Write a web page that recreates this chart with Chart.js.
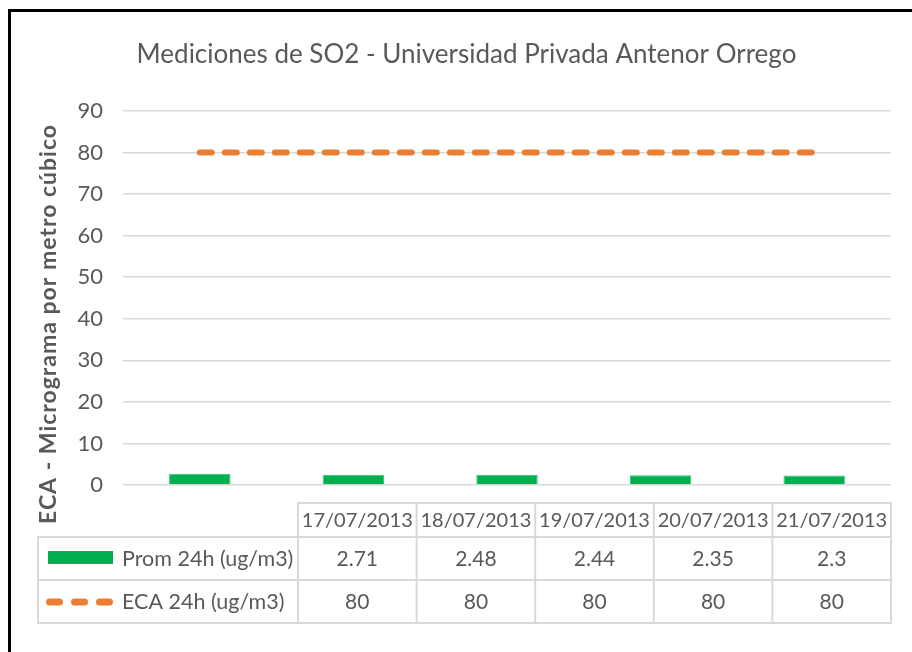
<!DOCTYPE html>
<html>
<head>
<meta charset="utf-8">
<script src="https://cdn.jsdelivr.net/npm/chart.js@4"></script>
<style>
  html, body { margin: 0; padding: 0; background: #fff; }
  #marco {
    position: absolute; left: 8px; top: 9px; width: 940px; height: 680px;
    border-left: 3px solid #000; border-top: 3px solid #000;
  }
  #grafico { position: absolute; left: 0; top: 0; }
</style>
</head>
<body>
<div id="marco"></div>
<canvas id="grafico" width="912" height="652"></canvas>
<script>
// ---------------- Datos ----------------
const fechas = ["17/07/2013", "18/07/2013", "19/07/2013", "20/07/2013", "21/07/2013"];
const prom24h = [2.71, 2.48, 2.44, 2.35, 2.3];
const eca24h = [80, 80, 80, 80, 80];
const nombresSeries = ["Prom 24h (ug/m3)", "ECA 24h (ug/m3)"];

const FUENTE = "Lato";
const GRIS = "#595959";
const VERDE = "#00B050";
const NARANJA = "#ED7D31";

// ---------------- Tabla de datos bajo el grafico ----------------
const tablaDatos = {
  id: "tablaDatos",
  afterDraw(chart) {
    const ctx = chart.ctx;
    const right = chart.chartArea.right;
    const izq = 38, colIni = 298;
    const filas = [503, 537, 580, 623];
    const anchoCol = (right - colIni) / fechas.length;

    ctx.save();
    ctx.strokeStyle = "#d9d9d9";
    ctx.lineWidth = 2;
    ctx.strokeRect(colIni, filas[0], right - colIni, filas[1] - filas[0]);
    ctx.strokeRect(izq, filas[1], right - izq, filas[3] - filas[1]);
    ctx.beginPath();
    ctx.moveTo(izq, filas[2]);
    ctx.lineTo(right, filas[2]);
    ctx.moveTo(colIni, filas[1]);
    ctx.lineTo(colIni, filas[3]);
    for (let i = 1; i < fechas.length; i++) {
      ctx.moveTo(colIni + i * anchoCol, filas[0]);
      ctx.lineTo(colIni + i * anchoCol, filas[3]);
    }
    ctx.stroke();

    ctx.fillStyle = GRIS;
    ctx.textAlign = "center";
    ctx.textBaseline = "middle";
    const series = [prom24h, eca24h];
    fechas.forEach((f, i) => {
      const cx = colIni + (i + 0.5) * anchoCol;
      ctx.font = "20px " + FUENTE;
      ctx.fillText(f, cx, (filas[0] + filas[1]) / 2 + 1);
      ctx.font = "21px " + FUENTE;
      series.forEach((s, j) => {
        ctx.fillText(String(s[i]), cx, (filas[j + 1] + filas[j + 2]) / 2 + 1);
      });
    });

    // leyenda dentro de la tabla
    ctx.textAlign = "left";
    ctx.font = "21.5px " + FUENTE;
    ctx.fillText(nombresSeries[0], 122, (filas[1] + filas[2]) / 2 + 1);
    ctx.fillText(nombresSeries[1], 122, (filas[2] + filas[3]) / 2 + 1);

    ctx.fillStyle = VERDE;
    ctx.fillRect(48, 551, 65, 13);

    ctx.strokeStyle = NARANJA;
    ctx.lineWidth = 7;
    ctx.lineCap = "round";
    ctx.setLineDash([10, 15]);
    ctx.beginPath();
    ctx.moveTo(49.5, 602);
    ctx.lineTo(109.5, 602);
    ctx.stroke();

    // titulo del eje Y
    ctx.setLineDash([]);
    ctx.translate(49, 324);
    ctx.rotate(-Math.PI / 2);
    ctx.fillStyle = GRIS;
    ctx.font = "bold 23px " + FUENTE;
    ctx.letterSpacing = "1px";
    ctx.textAlign = "center";
    ctx.fillText("ECA - Micrograma por metro cúbico", 0, 0);
    ctx.restore();
  }
};

// ---------------- Grafico ----------------
const ctx = document.getElementById("grafico").getContext("2d");
const chart = new Chart(ctx, {
  data: {
    labels: fechas,
    datasets: [
      {
        type: "line",
        label: nombresSeries[1],
        data: eca24h,
        borderColor: NARANJA,
        borderWidth: 6,
        borderDash: [12, 13],
        borderCapStyle: "round",
        pointRadius: 0,
        fill: false,
        order: 0
      },
      {
        type: "bar",
        label: nombresSeries[0],
        data: prom24h,
        backgroundColor: VERDE,
        borderColor: "#2ec46f",
        borderWidth: 1,
        barPercentage: 0.4,
        categoryPercentage: 1,
        order: 1
      }
    ]
  },
  options: {
    responsive: false,
    animation: false,
    layout: { padding: { left: 42, right: 21, top: 0, bottom: 167 } },
    scales: {
      x: { display: false },
      y: {
        min: 0,
        max: 90,
        afterFit: (s) => { s.width = 81; },
        ticks: {
          stepSize: 10,
          padding: 20,
          color: GRIS,
          font: { family: FUENTE, size: 22 }
        },
        grid: { color: "#d9d9d9", lineWidth: 1.5, drawTicks: false },
        border: { display: false }
      }
    },
    plugins: {
      legend: { display: false },
      tooltip: { enabled: false },
      title: {
        display: true,
        text: "Mediciones de SO2 - Universidad Privada Antenor Orrego",
        color: GRIS,
        font: { family: FUENTE, size: 26, weight: "normal" },
        padding: { top: 39.4, bottom: 40.4 }
      }
    }
  },
  plugins: [tablaDatos]
});
</script>
</body>
</html>
